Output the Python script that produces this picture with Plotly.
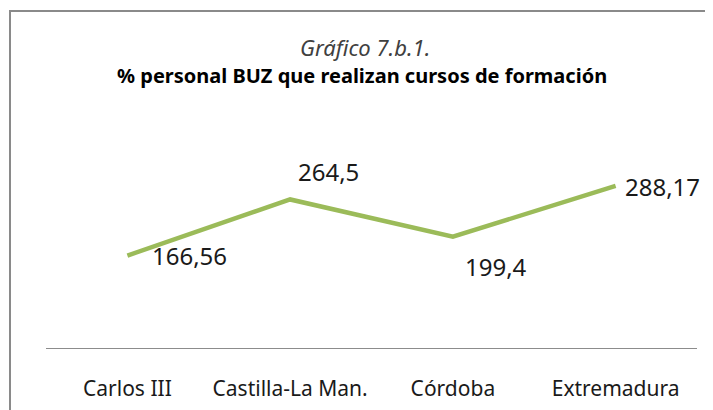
import plotly.graph_objects as go

categories = ["Carlos III", "Castilla-La Man.", "Córdoba", "Extremadura"]
values = [166.56, 264.5, 199.4, 288.17]
labels = ["166,56", "264,5", "199,4", "288,17"]

FONT = "Noto Sans"
OFF = 8  # default page body margin
W, H = 713 - OFF, 410 - OFF
L, R, T, B = 38, 16, 111, 62
pw = W - L - R
ph = H - T - B

def px_x(p):
    return (p - OFF - L) / pw

def px_y(p):
    return (H - B - (p - OFF)) / ph

fig = go.Figure()
fig.add_trace(go.Scatter(
    x=categories, y=values, mode="lines",
    line=dict(color="#9BBB59", width=4.5),
    hoverinfo="skip", showlegend=False,
))

offsets = [(23, 0), (6, 28), (10, -30), (7, -1)]
for c, v, t, (dx, dy) in zip(categories, values, labels, offsets):
    fig.add_annotation(x=c, y=v, text=t, showarrow=False,
                       xanchor="left", yanchor="middle",
                       xshift=dx, yshift=dy,
                       font=dict(family=FONT, size=24, color="#1a1a1a"))

fig.add_annotation(xref="paper", yref="paper", x=px_x(365), y=px_y(47),
                   text="<i>Gráfico 7.b.1.</i>", showarrow=False,
                   xanchor="center", yanchor="middle",
                   font=dict(family=FONT, size=22, color="#404040"))
fig.add_annotation(xref="paper", yref="paper", x=px_x(362), y=px_y(76),
                   text="<b>% personal BUZ que realizan cursos de formación</b>", showarrow=False,
                   xanchor="center", yanchor="middle",
                   font=dict(family=FONT, size=20, color="#000000"))

fig.add_shape(type="rect", xref="paper", yref="paper",
              x0=px_x(10), x1=px_x(740), y0=px_y(440), y1=px_y(11),
              line=dict(color="#8a8a8a", width=2), fillcolor="rgba(0,0,0,0)", layer="below")

fig.update_layout(
    width=W, height=H,
    margin=dict(l=L, r=R, t=T, b=B, autoexpand=False),
    paper_bgcolor="white", plot_bgcolor="white",
    xaxis=dict(showline=True, linecolor="#8c8c8c", linewidth=1, showgrid=False,
               zeroline=False, ticks="", automargin=False, range=[-0.5, 3.5],
               tickfont=dict(family=FONT, size=21, color="#1a1a1a"),
               ticklabelstandoff=22),
    yaxis=dict(range=[5, 405], visible=False),
)

fig.write_html("out.html")
